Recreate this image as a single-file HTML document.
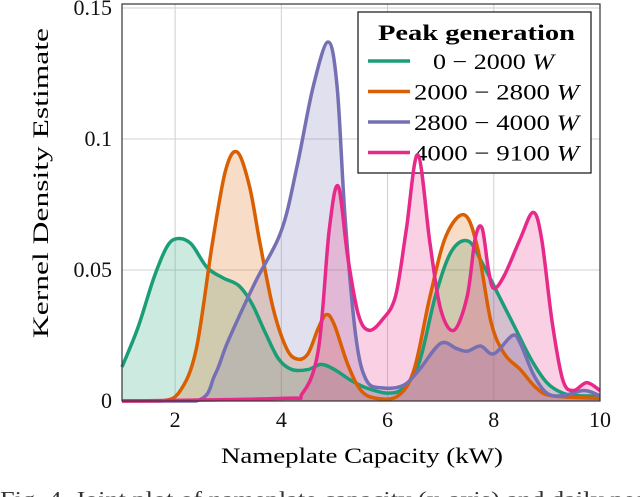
<!DOCTYPE html>
<html><head><meta charset="utf-8"><style>
body{margin:0;width:640px;height:497px;overflow:hidden;background:#fff;font-family:"Liberation Serif",serif;}
svg{display:block}
</style></head><body>
<svg width="640" height="497" font-family="Liberation Serif, serif">
<g id="grid"></g>
<g id="fills"></g>
<g>
<rect x="358" y="12" width="233" height="161" fill="#fff" stroke="#111" stroke-width="1.2"/>
<text x="378" y="40" textLength="197" lengthAdjust="spacingAndGlyphs" font-size="22" font-weight="bold">Peak generation</text>
<g id="legend-items"></g>
</g>
<g id="lines"></g>
<rect x="122" y="4" width="478" height="397" fill="none" stroke="#333" stroke-width="1.2"/>
<g id="ticks" font-size="22" fill="#111"></g>
<text x="221" y="463" textLength="282" lengthAdjust="spacingAndGlyphs" font-size="22">Nameplate Capacity (kW)</text>
<text transform="translate(48,338) rotate(-90)" textLength="310" lengthAdjust="spacingAndGlyphs" font-size="22">Kernel Density Estimate</text>
<text x="0" y="506" textLength="660" lengthAdjust="spacingAndGlyphs" font-size="21" fill="#333">Fig. 4. Joint plot of nameplate capacity (x-axis) and daily peak</text>
</svg>
<script>
const greenX=[1,1.3,1.6,1.85,2.05,2.3,2.6,2.9,3.2,3.45,3.7,3.95,4.2,4.5,4.75,5,5.3,5.6,6,6.3,6.6,6.9,7.2,7.52,7.8,8.1,8.4,8.7,9,9.3,9.6,10];
const green=[0.013,0.028,0.047,0.059,0.062,0.06,0.051,0.047,0.044,0.037,0.026,0.016,0.012,0.012,0.014,0.012,0.008,0.005,0.003,0.005,0.015,0.04,0.057,0.061,0.052,0.04,0.028,0.016,0.007,0.003,0.002,0.002];
const orangeX=[1,1.75,2.1,2.4,2.7,2.95,3.17,3.4,3.6,3.85,4.1,4.3,4.5,4.7,4.85,5,5.25,5.5,5.8,6.2,6.5,6.8,7.1,7.45,7.7,7.95,8.2,8.5,8.8,9.1,10];
const orange=[0,0,0.004,0.02,0.06,0.088,0.095,0.082,0.06,0.035,0.02,0.016,0.018,0.028,0.033,0.029,0.014,0.004,0.001,0.002,0.012,0.04,0.063,0.071,0.058,0.03,0.018,0.012,0.005,0.002,0.001];
const purpleX=[1,2.4,2.75,3,3.5,4,4.3,4.6,4.88,5.05,5.2,5.4,5.6,5.9,6.3,6.6,7,7.3,7.5,7.75,8,8.35,8.5,8.75,9,9.3,9.7,10];
const purple=[0,0,0.01,0.023,0.045,0.065,0.09,0.12,0.137,0.12,0.07,0.025,0.008,0.005,0.006,0.012,0.022,0.02,0.019,0.021,0.018,0.025,0.022,0.01,0.003,0.002,0.004,0.002];
const pinkX=[1,4,4.4,4.7,4.9,5.07,5.25,5.45,5.65,5.9,6.15,6.35,6.57,6.8,7,7.25,7.5,7.65,7.78,7.9,8,8.2,8.5,8.74,8.9,9.1,9.3,9.5,9.75,10];
const pink=[0,0.001,0.003,0.02,0.065,0.082,0.055,0.033,0.027,0.031,0.04,0.065,0.094,0.06,0.035,0.027,0.04,0.062,0.066,0.05,0.043,0.048,0.062,0.072,0.062,0.03,0.008,0.004,0.007,0.004];
const labels=["0 − 2000 ","2000 − 2800 ","2800 − 4000 ","4000 − 9100 "];
const colors=["#1b9e77","#d95f02","#7570b3","#e7298a"];
const seriesX=[greenX,orangeX,purpleX,pinkX];
const seriesY=[green,orange,purple,pink];
const xTicks=[2,4,6,8,10];
const yTicks=[0,0.05,0.1,0.15];
const yTickLabels=["0","0.05","0.1","0.15"];
const X=v=>122+(v-1)*478/9, Y=v=>401-v*393/0.15;
const NS="http://www.w3.org/2000/svg";
function mk(t,a,p){const e=document.createElementNS(NS,t);for(const k in a)e.setAttribute(k,a[k]);p.appendChild(e);return e;}
const grid=document.getElementById('grid'),ticks=document.getElementById('ticks');
xTicks.forEach(t=>{const l=mk('line',{x1:X(t),x2:X(t),y1:4,y2:401,stroke:'#d0d0d0'},grid);

const tx=mk('text',{x:X(t),y:427,'text-anchor':'middle'},ticks);tx.textContent=t;
});
yTicks.forEach((t,i)=>{const l=mk('line',{x1:122,x2:600,y1:Y(t),y2:Y(t),stroke:'#d0d0d0'},grid);

const tx=mk('text',{x:112,y:Y(t)+7,'text-anchor':'end'},ticks);tx.textContent=yTickLabels[i];
});
function pathD(xv,vals){const p=xv.map((x,i)=>[X(x),Y(vals[i])]);let d=`M${p[0][0]},${p[0][1]}`;
for(let i=0;i<p.length-1;i++){const p0=p[i-1]||p[i],p1=p[i],p2=p[i+1],p3=p[i+2]||p2;
const c1=[p1[0]+(p2[0]-p0[0])/6,p1[1]+(p2[1]-p0[1])/6],c2=[p2[0]-(p3[0]-p1[0])/6,p2[1]-(p3[1]-p1[1])/6];
d+=`C${c1[0]},${Math.min(401,c1[1])} ${c2[0]},${Math.min(401,c2[1])} ${p2[0]},${p2[1]}`;}return d;}
const fills=document.getElementById('fills'),lines=document.getElementById('lines'),li=document.getElementById('legend-items');
labels.forEach((lab,i)=>{const d=pathD(seriesX[i],seriesY[i]);
const f=mk('path',{d:d+`L${X(10)},401L${X(1)},401Z`,fill:colors[i],'fill-opacity':0.22},fills);

const l=mk('path',{d:d,fill:'none',stroke:colors[i],'stroke-width':3.5,'stroke-linejoin':'round'},lines);

const y=61+i*30.5;
const g=mk('g',{},li);
mk('line',{x1:368,x2:410,y1:y,y2:y,stroke:colors[i],'stroke-width':3.5},g);
const t=mk('text',{x:i==0?433:414,y:y+8,'font-size':22,textLength:i==0?121:165,lengthAdjust:'spacingAndGlyphs'},g);t.textContent=lab;
const w=mk('tspan',{'font-style':'italic'},t);w.textContent='W';});
</script>
</body></html>
